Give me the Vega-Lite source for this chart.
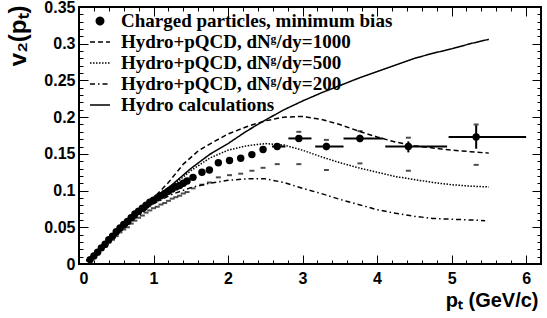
{
  "$schema": "https://vega.github.io/schema/vega-lite/v6.json",
  "width": 462,
  "height": 257,
  "autosize": "none",
  "padding": {"left": 79, "top": 7, "right": 6, "bottom": 54},
  "background": "white",
  "config": {
    "view": {"stroke": "black", "strokeWidth": 2},
    "axis": {"labelFont": "Liberation Sans", "labelFontWeight": "bold", "labelFontSize": 16, "labelColor": "black", "tickColor": "black", "tickWidth": 1, "domain": false, "grid": false, "titleFont": "Liberation Sans", "titleFontWeight": "bold", "titleFontSize": 20, "titleColor": "black"}
  },
  "datasets": {
    "curves": [
      {"pT": 0.1, "v2": 0.005, "model": "Hydro calculations"},
      {"pT": 0.25, "v2": 0.018, "model": "Hydro calculations"},
      {"pT": 0.5, "v2": 0.042, "model": "Hydro calculations"},
      {"pT": 0.75, "v2": 0.066, "model": "Hydro calculations"},
      {"pT": 1.0, "v2": 0.089, "model": "Hydro calculations"},
      {"pT": 1.25, "v2": 0.108, "model": "Hydro calculations"},
      {"pT": 1.5, "v2": 0.13, "model": "Hydro calculations"},
      {"pT": 1.75, "v2": 0.149, "model": "Hydro calculations"},
      {"pT": 2.0, "v2": 0.164, "model": "Hydro calculations"},
      {"pT": 2.25, "v2": 0.181, "model": "Hydro calculations"},
      {"pT": 2.5, "v2": 0.196, "model": "Hydro calculations"},
      {"pT": 2.75, "v2": 0.21, "model": "Hydro calculations"},
      {"pT": 3.0, "v2": 0.222, "model": "Hydro calculations"},
      {"pT": 3.25, "v2": 0.233, "model": "Hydro calculations"},
      {"pT": 3.5, "v2": 0.243, "model": "Hydro calculations"},
      {"pT": 3.75, "v2": 0.253, "model": "Hydro calculations"},
      {"pT": 4.0, "v2": 0.262, "model": "Hydro calculations"},
      {"pT": 4.25, "v2": 0.271, "model": "Hydro calculations"},
      {"pT": 4.5, "v2": 0.28, "model": "Hydro calculations"},
      {"pT": 4.75, "v2": 0.287, "model": "Hydro calculations"},
      {"pT": 5.0, "v2": 0.293, "model": "Hydro calculations"},
      {"pT": 5.25, "v2": 0.3, "model": "Hydro calculations"},
      {"pT": 5.5, "v2": 0.306, "model": "Hydro calculations"},

      {"pT": 0.1, "v2": 0.004, "model": "Hydro+pQCD, dNᵍ/dy=1000"},
      {"pT": 0.5, "v2": 0.04, "model": "Hydro+pQCD, dNᵍ/dy=1000"},
      {"pT": 0.75, "v2": 0.064, "model": "Hydro+pQCD, dNᵍ/dy=1000"},
      {"pT": 1.0, "v2": 0.09, "model": "Hydro+pQCD, dNᵍ/dy=1000"},
      {"pT": 1.2, "v2": 0.111, "model": "Hydro+pQCD, dNᵍ/dy=1000"},
      {"pT": 1.4, "v2": 0.136, "model": "Hydro+pQCD, dNᵍ/dy=1000"},
      {"pT": 1.6, "v2": 0.154, "model": "Hydro+pQCD, dNᵍ/dy=1000"},
      {"pT": 1.8, "v2": 0.166, "model": "Hydro+pQCD, dNᵍ/dy=1000"},
      {"pT": 2.0, "v2": 0.177, "model": "Hydro+pQCD, dNᵍ/dy=1000"},
      {"pT": 2.25, "v2": 0.187, "model": "Hydro+pQCD, dNᵍ/dy=1000"},
      {"pT": 2.5, "v2": 0.195, "model": "Hydro+pQCD, dNᵍ/dy=1000"},
      {"pT": 2.75, "v2": 0.2, "model": "Hydro+pQCD, dNᵍ/dy=1000"},
      {"pT": 3.0, "v2": 0.201, "model": "Hydro+pQCD, dNᵍ/dy=1000"},
      {"pT": 3.25, "v2": 0.197, "model": "Hydro+pQCD, dNᵍ/dy=1000"},
      {"pT": 3.5, "v2": 0.19, "model": "Hydro+pQCD, dNᵍ/dy=1000"},
      {"pT": 3.75, "v2": 0.181, "model": "Hydro+pQCD, dNᵍ/dy=1000"},
      {"pT": 4.0, "v2": 0.173, "model": "Hydro+pQCD, dNᵍ/dy=1000"},
      {"pT": 4.25, "v2": 0.166, "model": "Hydro+pQCD, dNᵍ/dy=1000"},
      {"pT": 4.5, "v2": 0.161, "model": "Hydro+pQCD, dNᵍ/dy=1000"},
      {"pT": 4.75, "v2": 0.158, "model": "Hydro+pQCD, dNᵍ/dy=1000"},
      {"pT": 5.0, "v2": 0.155, "model": "Hydro+pQCD, dNᵍ/dy=1000"},
      {"pT": 5.25, "v2": 0.153, "model": "Hydro+pQCD, dNᵍ/dy=1000"},
      {"pT": 5.5, "v2": 0.151, "model": "Hydro+pQCD, dNᵍ/dy=1000"},

      {"pT": 0.1, "v2": 0.004, "model": "Hydro+pQCD, dNᵍ/dy=500"},
      {"pT": 0.5, "v2": 0.04, "model": "Hydro+pQCD, dNᵍ/dy=500"},
      {"pT": 0.75, "v2": 0.064, "model": "Hydro+pQCD, dNᵍ/dy=500"},
      {"pT": 1.0, "v2": 0.087, "model": "Hydro+pQCD, dNᵍ/dy=500"},
      {"pT": 1.25, "v2": 0.106, "model": "Hydro+pQCD, dNᵍ/dy=500"},
      {"pT": 1.5, "v2": 0.127, "model": "Hydro+pQCD, dNᵍ/dy=500"},
      {"pT": 1.75, "v2": 0.144, "model": "Hydro+pQCD, dNᵍ/dy=500"},
      {"pT": 2.0, "v2": 0.155, "model": "Hydro+pQCD, dNᵍ/dy=500"},
      {"pT": 2.25, "v2": 0.161, "model": "Hydro+pQCD, dNᵍ/dy=500"},
      {"pT": 2.5, "v2": 0.164, "model": "Hydro+pQCD, dNᵍ/dy=500"},
      {"pT": 2.75, "v2": 0.162, "model": "Hydro+pQCD, dNᵍ/dy=500"},
      {"pT": 3.0, "v2": 0.155, "model": "Hydro+pQCD, dNᵍ/dy=500"},
      {"pT": 3.25, "v2": 0.146, "model": "Hydro+pQCD, dNᵍ/dy=500"},
      {"pT": 3.5, "v2": 0.138, "model": "Hydro+pQCD, dNᵍ/dy=500"},
      {"pT": 3.75, "v2": 0.131, "model": "Hydro+pQCD, dNᵍ/dy=500"},
      {"pT": 4.0, "v2": 0.125, "model": "Hydro+pQCD, dNᵍ/dy=500"},
      {"pT": 4.25, "v2": 0.119, "model": "Hydro+pQCD, dNᵍ/dy=500"},
      {"pT": 4.5, "v2": 0.115, "model": "Hydro+pQCD, dNᵍ/dy=500"},
      {"pT": 4.75, "v2": 0.111, "model": "Hydro+pQCD, dNᵍ/dy=500"},
      {"pT": 5.0, "v2": 0.108, "model": "Hydro+pQCD, dNᵍ/dy=500"},
      {"pT": 5.25, "v2": 0.106, "model": "Hydro+pQCD, dNᵍ/dy=500"},
      {"pT": 5.5, "v2": 0.105, "model": "Hydro+pQCD, dNᵍ/dy=500"},

      {"pT": 0.1, "v2": 0.004, "model": "Hydro+pQCD, dNᵍ/dy=200"},
      {"pT": 0.5, "v2": 0.039, "model": "Hydro+pQCD, dNᵍ/dy=200"},
      {"pT": 0.75, "v2": 0.062, "model": "Hydro+pQCD, dNᵍ/dy=200"},
      {"pT": 1.0, "v2": 0.082, "model": "Hydro+pQCD, dNᵍ/dy=200"},
      {"pT": 1.25, "v2": 0.095, "model": "Hydro+pQCD, dNᵍ/dy=200"},
      {"pT": 1.5, "v2": 0.104, "model": "Hydro+pQCD, dNᵍ/dy=200"},
      {"pT": 1.75, "v2": 0.11, "model": "Hydro+pQCD, dNᵍ/dy=200"},
      {"pT": 2.0, "v2": 0.114, "model": "Hydro+pQCD, dNᵍ/dy=200"},
      {"pT": 2.25, "v2": 0.116, "model": "Hydro+pQCD, dNᵍ/dy=200"},
      {"pT": 2.5, "v2": 0.116, "model": "Hydro+pQCD, dNᵍ/dy=200"},
      {"pT": 2.75, "v2": 0.111, "model": "Hydro+pQCD, dNᵍ/dy=200"},
      {"pT": 3.0, "v2": 0.103, "model": "Hydro+pQCD, dNᵍ/dy=200"},
      {"pT": 3.25, "v2": 0.096, "model": "Hydro+pQCD, dNᵍ/dy=200"},
      {"pT": 3.5, "v2": 0.088, "model": "Hydro+pQCD, dNᵍ/dy=200"},
      {"pT": 3.75, "v2": 0.081, "model": "Hydro+pQCD, dNᵍ/dy=200"},
      {"pT": 4.0, "v2": 0.074, "model": "Hydro+pQCD, dNᵍ/dy=200"},
      {"pT": 4.25, "v2": 0.069, "model": "Hydro+pQCD, dNᵍ/dy=200"},
      {"pT": 4.5, "v2": 0.065, "model": "Hydro+pQCD, dNᵍ/dy=200"},
      {"pT": 4.75, "v2": 0.062, "model": "Hydro+pQCD, dNᵍ/dy=200"},
      {"pT": 5.0, "v2": 0.061, "model": "Hydro+pQCD, dNᵍ/dy=200"},
      {"pT": 5.25, "v2": 0.06, "model": "Hydro+pQCD, dNᵍ/dy=200"},
      {"pT": 5.45, "v2": 0.059, "model": "Hydro+pQCD, dNᵍ/dy=200"}
    ],
    "points": [
      {"pT": 0.15, "v2": 0.006, "sysLo": 0.005},
      {"pT": 0.2, "v2": 0.011, "sysLo": 0.0095},
      {"pT": 0.25, "v2": 0.016, "sysLo": 0.014},
      {"pT": 0.3, "v2": 0.022, "sysLo": 0.019},
      {"pT": 0.35, "v2": 0.027, "sysLo": 0.0235},
      {"pT": 0.4, "v2": 0.033, "sysLo": 0.029},
      {"pT": 0.45, "v2": 0.038, "sysLo": 0.033},
      {"pT": 0.5, "v2": 0.044, "sysLo": 0.038},
      {"pT": 0.55, "v2": 0.049, "sysLo": 0.043},
      {"pT": 0.6, "v2": 0.054, "sysLo": 0.047},
      {"pT": 0.65, "v2": 0.058, "sysLo": 0.05},
      {"pT": 0.7, "v2": 0.063, "sysLo": 0.055},
      {"pT": 0.75, "v2": 0.068, "sysLo": 0.059},
      {"pT": 0.8, "v2": 0.072, "sysLo": 0.063},
      {"pT": 0.85, "v2": 0.076, "sysLo": 0.066},
      {"pT": 0.9, "v2": 0.08, "sysLo": 0.07},
      {"pT": 0.95, "v2": 0.084, "sysLo": 0.073},
      {"pT": 1.0, "v2": 0.087, "sysLo": 0.076},
      {"pT": 1.05, "v2": 0.09, "sysLo": 0.078},
      {"pT": 1.1, "v2": 0.093, "sysLo": 0.081},
      {"pT": 1.15, "v2": 0.096, "sysLo": 0.083},
      {"pT": 1.2, "v2": 0.099, "sysLo": 0.086},
      {"pT": 1.25, "v2": 0.102, "sysLo": 0.089},
      {"pT": 1.3, "v2": 0.105, "sysLo": 0.091},
      {"pT": 1.35, "v2": 0.107, "sysLo": 0.093},
      {"pT": 1.4, "v2": 0.11, "sysLo": 0.096},
      {"pT": 1.45, "v2": 0.113, "sysLo": 0.098},
      {"pT": 1.53, "v2": 0.118, "sysLo": 0.103},
      {"pT": 1.65, "v2": 0.125, "sysLo": 0.108},
      {"pT": 1.75, "v2": 0.128, "sysLo": 0.111},
      {"pT": 1.87, "v2": 0.138, "sysLo": 0.118},
      {"pT": 2.02, "v2": 0.141, "sysLo": 0.121},
      {"pT": 2.17, "v2": 0.144, "sysLo": 0.123},
      {"pT": 2.32, "v2": 0.149, "sysLo": 0.127},
      {"pT": 2.47, "v2": 0.156, "sysLo": 0.131},
      {"pT": 2.66, "v2": 0.16, "sysLo": 0.136, "xlo": 2.59, "xhi": 2.77, "ylo": 0.157, "yhi": 0.163},
      {"pT": 2.95, "v2": 0.171, "sysLo": 0.136, "sysHi": 0.18, "xlo": 2.81, "xhi": 3.12, "ylo": 0.167, "yhi": 0.175},
      {"pT": 3.32, "v2": 0.16, "sysLo": 0.128, "sysHi": 0.169, "xlo": 3.17, "xhi": 3.55, "ylo": 0.155, "yhi": 0.165},
      {"pT": 3.77, "v2": 0.171, "sysLo": 0.137, "sysHi": 0.181, "xlo": 3.55, "xhi": 4.08, "ylo": 0.166, "yhi": 0.176},
      {"pT": 4.42, "v2": 0.16, "sysLo": 0.127, "sysHi": 0.172, "xlo": 4.11, "xhi": 4.94, "ylo": 0.152, "yhi": 0.167},
      {"pT": 5.33, "v2": 0.173, "sysLo": 0.135, "sysHi": 0.19, "xlo": 4.96, "xhi": 6.0, "ylo": 0.157, "yhi": 0.189}
    ]
  },
  "resolve": {"axis": {"x": "independent", "y": "independent"}},
  "layer": [
    {
      "data": {"name": "curves"},
      "mark": {"type": "line", "color": "black", "strokeWidth": 1.5},
      "encoding": {
        "x": {"field": "pT", "type": "quantitative", "scale": {"domain": [0, 6.2], "nice": false, "zero": false},
          "axis": {"orient": "bottom", "values": [0, 1, 2, 3, 4, 5, 6], "format": "d", "tickSize": -9, "labelPadding": 15, "title": "pₜ (GeV/c)", "titleAnchor": "end", "titleY": 42, "titleBaseline": "alphabetic", "titleAlign": "right", "titleX": 459}},
        "y": {"field": "v2", "type": "quantitative", "scale": {"domain": [0, 0.35], "nice": false, "zero": false},
          "axis": {"orient": "left", "values": [0, 0.05, 0.1, 0.15, 0.2, 0.25, 0.3, 0.35], "format": "~g", "tickSize": -9, "labelPadding": 13, "title": "v₂(pₜ)", "titleFontSize": 24, "titleAnchor": "end", "titleX": -49, "titleY": -2, "titleAlign": "right", "titleAngle": -90}},
        "strokeDash": {"field": "model", "type": "nominal",
          "scale": {"domain": ["Charged particles, minimum bias", "Hydro+pQCD, dNᵍ/dy=1000", "Hydro+pQCD, dNᵍ/dy=500", "Hydro+pQCD, dNᵍ/dy=200", "Hydro calculations"],
                    "range": [[1, 0], [5, 3], [1.5, 1.5], [5, 3, 1.5, 3], [1, 0]]},
          "legend": {"title": null, "orient": "none", "legendX": 10, "legendY": 3, "padding": 0,
            "symbolType": "stroke", "symbolSize": 400, "symbolStrokeWidth": 1.5, "symbolStrokeColor": "black",
            "labelFont": "Liberation Serif", "labelFontWeight": "bold", "labelFontSize": 19, "labelColor": "black", "labelOffset": 10, "rowPadding": 0, "labelLimit": 400,
            "encode": {"symbols": {"update": {
              "shape": {"signal": "datum.value === 'Charged particles, minimum bias' ? 'circle' : 'M-1,0L1,0'"},
              "size": {"signal": "datum.value === 'Charged particles, minimum bias' ? 55 : 400"},
              "fill": {"signal": "datum.value === 'Charged particles, minimum bias' ? 'black' : 'transparent'"},
              "stroke": {"value": "black"}
            }}}}
        }
      }
    },
    {
      "data": {"name": "points"},
      "mark": {"type": "point", "filled": true, "color": "black", "size": 55, "opacity": 1},
      "encoding": {
        "x": {"field": "pT", "type": "quantitative", "axis": {"orient": "top", "values": [0, 1, 2, 3, 4, 5, 6], "labels": false, "tickSize": -9, "title": null}},
        "y": {"field": "v2", "type": "quantitative", "axis": {"orient": "right", "values": [0, 0.05, 0.1, 0.15, 0.2, 0.25, 0.3, 0.35], "labels": false, "tickSize": -9, "title": null}}
      }
    },
    {
      "data": {"name": "points"},
      "transform": [{"filter": "isValid(datum.xlo)"}],
      "mark": {"type": "rule", "color": "black", "strokeWidth": 2},
      "encoding": {
        "x": {"field": "xlo", "type": "quantitative", "axis": {"orient": "bottom", "values": [0.2, 0.4, 0.6, 0.8, 1.2, 1.4, 1.6, 1.8, 2.2, 2.4, 2.6, 2.8, 3.2, 3.4, 3.6, 3.8, 4.2, 4.4, 4.6, 4.8, 5.2, 5.4, 5.6, 5.8, 6.2], "labels": false, "tickSize": -4, "title": null}},
        "x2": {"field": "xhi"},
        "y": {"field": "v2", "type": "quantitative", "axis": {"orient": "left", "values": [0.01, 0.02, 0.03, 0.04, 0.06, 0.07, 0.08, 0.09, 0.11, 0.12, 0.13, 0.14, 0.16, 0.17, 0.18, 0.19, 0.21, 0.22, 0.23, 0.24, 0.26, 0.27, 0.28, 0.29, 0.31, 0.32, 0.33, 0.34], "labels": false, "tickSize": -4, "title": null}}
      }
    },
    {
      "data": {"name": "points"},
      "transform": [{"filter": "isValid(datum.xlo)"}],
      "mark": {"type": "rule", "color": "black", "strokeWidth": 2},
      "encoding": {
        "x": {"field": "pT", "type": "quantitative", "axis": {"orient": "top", "values": [0.2, 0.4, 0.6, 0.8, 1.2, 1.4, 1.6, 1.8, 2.2, 2.4, 2.6, 2.8, 3.2, 3.4, 3.6, 3.8, 4.2, 4.4, 4.6, 4.8, 5.2, 5.4, 5.6, 5.8, 6.2], "labels": false, "tickSize": -4, "title": null}},
        "y": {"field": "ylo", "type": "quantitative", "axis": {"orient": "right", "values": [0.01, 0.02, 0.03, 0.04, 0.06, 0.07, 0.08, 0.09, 0.11, 0.12, 0.13, 0.14, 0.16, 0.17, 0.18, 0.19, 0.21, 0.22, 0.23, 0.24, 0.26, 0.27, 0.28, 0.29, 0.31, 0.32, 0.33, 0.34], "labels": false, "tickSize": -4, "title": null}},
        "y2": {"field": "yhi"}
      }
    },
    {
      "data": {"name": "points"},
      "mark": {"type": "tick", "orient": "horizontal", "color": "black", "size": 5, "thickness": 2},
      "encoding": {
        "x": {"field": "pT", "type": "quantitative", "axis": null},
        "y": {"field": "sysLo", "type": "quantitative", "axis": null}
      }
    },
    {
      "data": {"name": "points"},
      "transform": [{"filter": "isValid(datum.sysHi)"}],
      "mark": {"type": "tick", "orient": "horizontal", "color": "black", "size": 5, "thickness": 2},
      "encoding": {
        "x": {"field": "pT", "type": "quantitative", "axis": null},
        "y": {"field": "sysHi", "type": "quantitative", "axis": null}
      }
    }
  ]
}
